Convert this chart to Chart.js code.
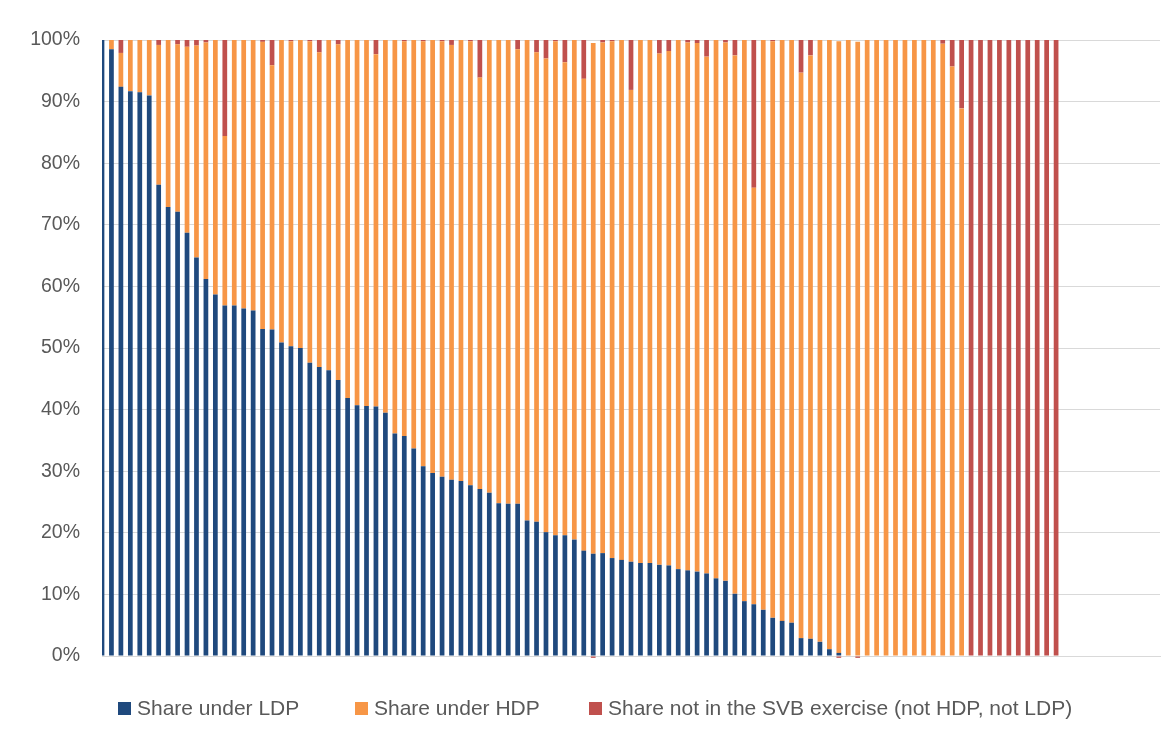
<!DOCTYPE html>
<html><head><meta charset="utf-8">
<script src="https://cdn.jsdelivr.net/npm/chart.js@4.4.1/dist/chart.umd.min.js"></script>
<style>
html,body{margin:0;padding:0;background:#fff;}
#wrap{position:relative;width:1166px;height:738px;overflow:hidden;}
#c{position:absolute;left:0;top:0;}
.legend{position:absolute;left:0;top:695px;width:1166px;height:26px;font-family:"Liberation Sans",Arial,sans-serif;font-size:21px;color:#595959;}
.item{position:absolute;top:0;height:26px;display:flex;align-items:center;white-space:nowrap;}
.sw{width:13px;height:13px;margin-right:6px;flex:none;}
</style></head>
<body>
<div id="wrap">
<canvas id="c" width="1166" height="738"></canvas>
<div class="legend" id="legend"></div>
</div>
<script>
// ---- data ----
const bankCount = 102;      // bars drawn
const slotCount = 113;      // category slots on the axis (last ones empty)
const categories = Array.from({length: slotCount}, (_, i) => 'Bank ' + (i + 1));
const seriesNames = ['Share under LDP', 'Share under HDP', 'Share not in the SVB exercise (not HDP, not LDP)'];
const seriesColors = ['#1F497D', '#F79646', '#C0504D'];
const yTickValues = [0,10,20,30,40,50,60,70,80,90,100];

const ldpShare = [
 100, 98.5, 92.4, 91.7, 91.5, 91.0, 76.5, 72.9, 72.1, 68.7,
 64.7, 61.2, 58.7, 56.9, 56.9, 56.4, 56.1, 53.1, 53.0, 50.9,
 50.3, 50.0, 47.6, 46.9, 46.4, 44.8, 41.9, 40.7, 40.6, 40.5,
 39.5, 36.1, 35.7, 33.7, 30.8, 29.7, 29.1, 28.6, 28.4, 27.7,
 27.1, 26.5, 24.8, 24.7, 24.7, 22.0, 21.8, 20.1, 19.6, 19.6,
 18.9, 17.1, 16.6, 16.7, 15.9, 15.6, 15.3, 15.1, 15.1, 14.8,
 14.7, 14.1, 13.9, 13.7, 13.4, 12.6, 12.2, 10.1, 8.9, 8.4,
 7.5, 6.2, 5.7, 5.4, 2.9, 2.8, 2.3, 1.1, 0.5, 0,
 0, 0, 0, 0, 0, 0, 0, 0, 0, 0,
 0, 0, 0, 0, 0, 0, 0, 0, 0, 0,
 0, 0
];
const hdpShare = [
 0, 1.5, 5.5, 8.3, 8.5, 9.0, 22.7, 27.1, 27.2, 30.2,
 34.4, 38.4, 41.3, 27.5, 43.1, 43.6, 43.9, 46.6, 42.9, 49.1,
 49.5, 50.0, 52.2, 51.1, 53.6, 54.5, 58.1, 59.3, 59.4, 57.2,
 60.5, 63.9, 64.1, 66.3, 69.0, 70.3, 70.7, 70.6, 71.6, 72.1,
 66.8, 73.5, 75.2, 75.3, 73.8, 78.0, 76.2, 76.9, 80.2, 76.8,
 81.1, 76.6, 82.9, 82.9, 83.9, 84.4, 76.6, 84.9, 84.9, 83.0,
 83.5, 85.9, 85.7, 85.8, 83.9, 87.4, 87.4, 87.4, 91.1, 67.6,
 92.5, 93.6, 94.3, 94.6, 91.8, 94.7, 97.7, 98.9, 99.3, 100,
 99.7, 100, 100, 100, 100, 100, 100, 100, 100, 99.4,
 95.7, 88.9, 0, 0, 0, 0, 0, 0, 0, 0,
 0, 0
];
const otherShare = [
 0, 0, 2.1, 0, 0, 0, 0.8, 0, 0.7, 1.1,
 0.9, 0.4, 0, 15.6, 0, 0, 0, 0.3, 4.1, 0,
 0.2, 0, 0.2, 2.0, 0, 0.7, 0, 0, 0, 2.3,
 0, 0, 0.2, 0, 0.2, 0, 0.2, 0.8, 0, 0.2,
 6.1, 0, 0, 0, 1.5, 0, 2.0, 3.0, 0.2, 3.6,
 0, 6.3, -0.3, 0.4, 0.2, 0, 8.1, 0, 0, 2.2,
 1.8, 0, 0.4, 0.5, 2.7, 0, 0.4, 2.5, 0, 24.0,
 0, 0.2, 0, 0, 5.3, 2.5, 0, 0, -0.3, 0,
 -0.3, 0, 0, 0, 0, 0, 0, 0, 0, 0.6,
 4.3, 11.1, 100, 100, 100, 100, 100, 100, 100, 100,
 100, 100
];

// ---- chart ----
const seriesData = [ldpShare, hdpShare, otherShare];
const datasets = seriesNames.map((name, k) => ({
  label: name,
  data: seriesData[k],
  backgroundColor: seriesColors[k],
  borderWidth: 0,
  categoryPercentage: 1.0,
  barPercentage: 0.5,
  clip: {left: 0, top: 0, right: 0, bottom: 3}
}));

new Chart(document.getElementById('c'), {
  type: 'bar',
  data: {labels: categories, datasets},
  options: {
    responsive: false,
    animation: false,
    devicePixelRatio: 1,
    layout: {padding: {top: 40, right: 6, bottom: 82, left: 0}},
    plugins: {legend: {display: false}, tooltip: {enabled: false}},
    scales: {
      x: {
        stacked: true,
        offset: false,
        grid: {display: false},
        ticks: {display: false},
        border: {display: true, color: '#d9d9d9', width: 1},
        afterFit: s => { s.height = 0; }
      },
      y: {
        stacked: true,
        min: 0, max: 100,
        afterBuildTicks: s => { s.ticks = yTickValues.map(v => ({value: v})); },
        ticks: {
          callback: v => v + '%',
          color: '#595959',
          padding: 22,
          font: {family: '"Liberation Sans", Arial, sans-serif', size: 19.5}
        },
        grid: {color: '#d9d9d9', lineWidth: 1, drawTicks: false},
        border: {display: false},
        afterFit: s => { s.width = 102; }
      }
    }
  }
});

// ---- legend (HTML text) ----
const legendLeft = [118, 355, 589];
const lg = document.getElementById('legend');
seriesNames.forEach((name, k) => {
  const it = document.createElement('div');
  it.className = 'item';
  it.style.left = legendLeft[k] + 'px';
  const sw = document.createElement('span');
  sw.className = 'sw';
  sw.style.background = seriesColors[k];
  const tx = document.createElement('span');
  tx.textContent = name;
  it.appendChild(sw); it.appendChild(tx);
  lg.appendChild(it);
});
</script>
</body></html>
